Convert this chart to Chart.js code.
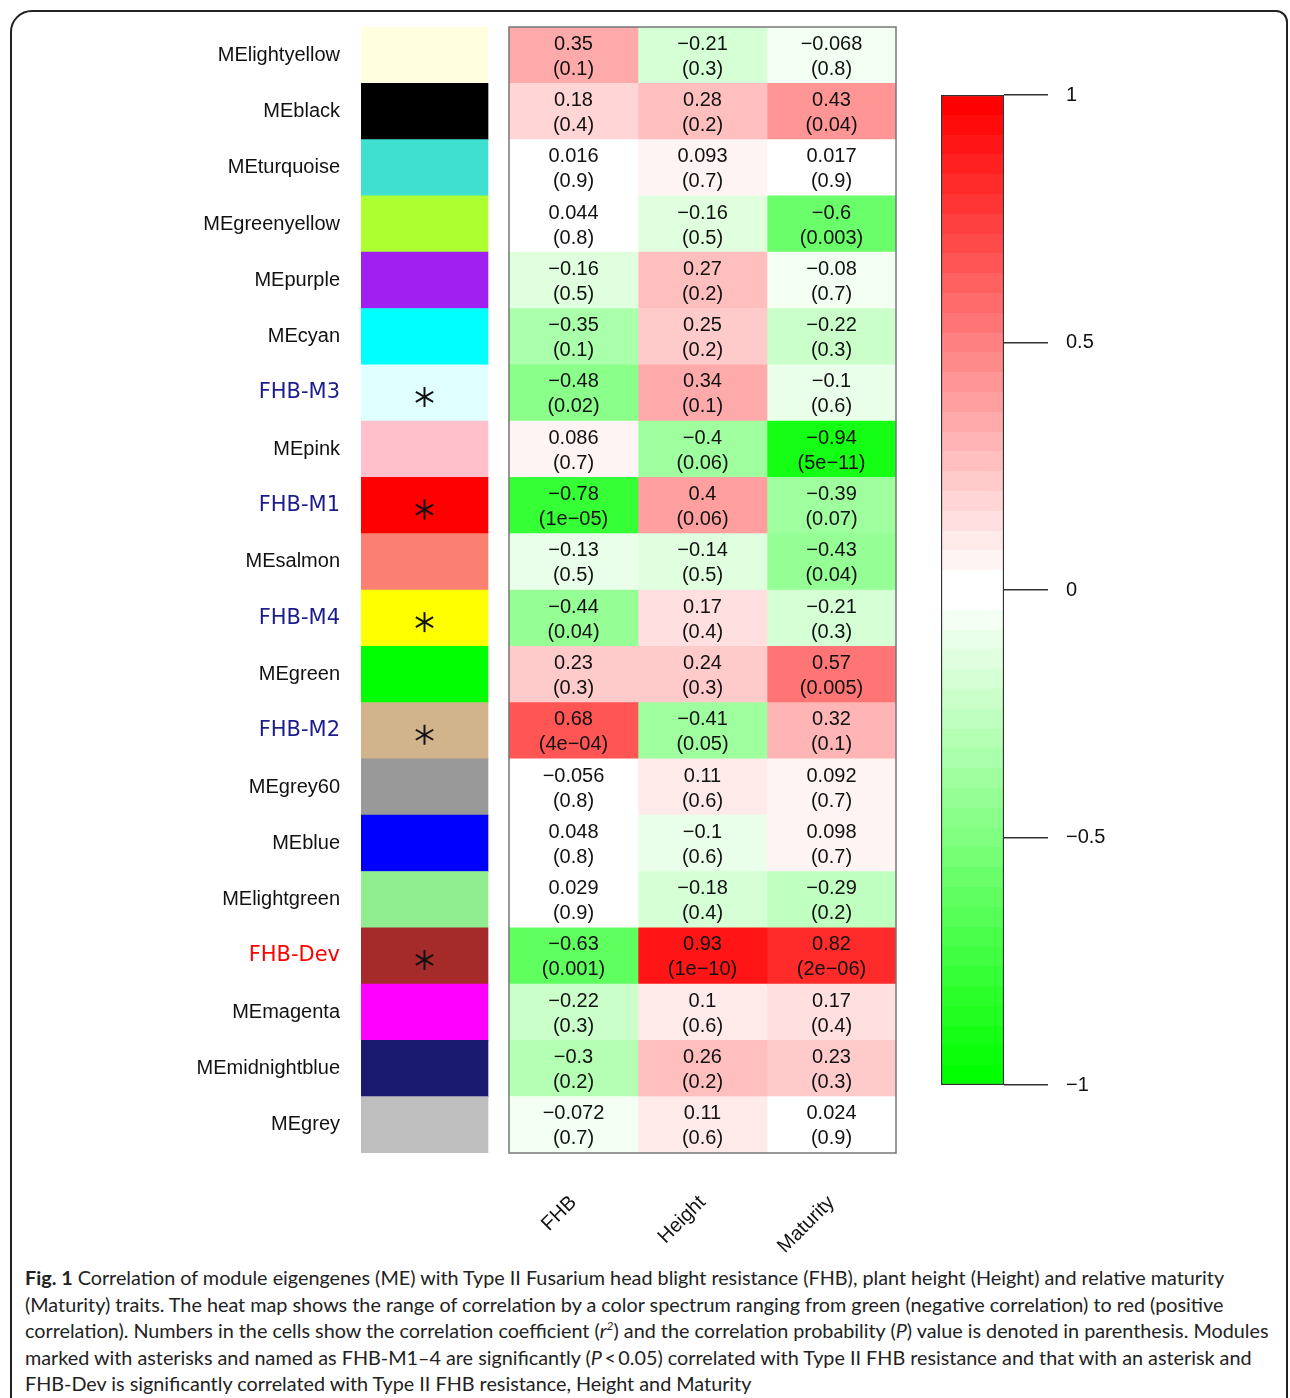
<!DOCTYPE html>
<html>
<head>
<meta charset="utf-8">
<title>Module-trait correlation</title>
<script src="https://cdn.jsdelivr.net/npm/chart.js@4.4.1/dist/chart.umd.min.js"></script>
<style>
  body { margin: 0; background: #fff; }
  #page { position: relative; width: 1290px; height: 1398px; overflow: hidden; }
  #frame { position: absolute; left: 10px; top: 10px; width: 1274px; height: 1500px;
           border: 2px solid #222; border-radius: 22px 12px 0 0; }
  #heat { position: absolute; left: 0; top: 0; }
  #scale { position: absolute; left: 920px; top: 0; }
  #caption { position: absolute; left: 25px; top: 1264px; font-family: Lato, sans-serif;
             font-size: 19.8px; line-height: 26.5px; color: #222; white-space: nowrap; }
  #caption sup { font-size: 12px; line-height: 0; }
</style>
</head>
<body>
<div id="page">
  <div id="frame"></div>
  <canvas id="heat" width="920" height="1260"></canvas>
  <canvas id="scale" width="370" height="1260"></canvas>
  <div id="caption">
    <b>Fig. 1</b> Correlation of module eigengenes (ME) with Type II Fusarium head blight resistance (FHB), plant height (Height) and relative maturity<br>
    (Maturity) traits. The heat map shows the range of correlation by a color spectrum ranging from green (negative correlation) to red (positive<br>
    correlation). Numbers in the cells show the correlation coefficient (<i>r</i><sup><i>2</i></sup>) and the correlation probability (<i>P</i>) value is denoted in parenthesis. Modules<br>
    marked with asterisks and named as FHB-M1–4 are significantly (<i>P</i>&thinsp;&lt;&thinsp;0.05) correlated with Type II FHB resistance and that with an asterisk and<br>
    FHB-Dev is significantly correlated with Type II FHB resistance, Height and Maturity
  </div>
</div>
<script>
// ---- data ----
const modules = ['MElightyellow', 'MEblack', 'MEturquoise', 'MEgreenyellow', 'MEpurple',
  'MEcyan', 'FHB-M3', 'MEpink', 'FHB-M1', 'MEsalmon', 'FHB-M4', 'MEgreen', 'FHB-M2',
  'MEgrey60', 'MEblue', 'MElightgreen', 'FHB-Dev', 'MEmagenta', 'MEmidnightblue', 'MEgrey'];
const moduleColors = ['#FFFFE0', '#000000', '#40E0D0', '#ADFF2F', '#A020F0',
  '#00FFFF', '#E0FFFF', '#FFC0CB', '#FF0000', '#FA8072', '#FFFF00', '#00FF00', '#D2B48C',
  '#999999', '#0000FF', '#90EE90', '#A52A2A', '#FF00FF', '#191970', '#BEBEBE'];
const traits = ['FHB', 'Height', 'Maturity'];

const rFHB = [0.35, 0.18, 0.016, 0.044, -0.16, -0.35, -0.48, 0.086, -0.78, -0.13,
  -0.44, 0.23, 0.68, -0.056, 0.048, 0.029, -0.63, -0.22, -0.3, -0.072];
const pFHB = ['0.1', '0.4', '0.9', '0.8', '0.5', '0.1', '0.02', '0.7', '1e-05', '0.5',
  '0.04', '0.3', '4e-04', '0.8', '0.8', '0.9', '0.001', '0.3', '0.2', '0.7'];
const rHeight = [-0.21, 0.28, 0.093, -0.16, 0.27, 0.25, 0.34, -0.4, 0.4, -0.14,
  0.17, 0.24, -0.41, 0.11, -0.1, -0.18, 0.93, 0.1, 0.26, 0.11];
const pHeight = ['0.3', '0.2', '0.7', '0.5', '0.2', '0.2', '0.1', '0.06', '0.06', '0.5',
  '0.4', '0.3', '0.05', '0.6', '0.6', '0.4', '1e-10', '0.6', '0.2', '0.6'];
const rMaturity = [-0.068, 0.43, 0.017, -0.6, -0.08, -0.22, -0.1, -0.94, -0.39, -0.43,
  -0.21, 0.57, 0.32, 0.092, 0.098, -0.29, 0.82, 0.17, 0.23, 0.024];
const pMaturity = ['0.8', '0.04', '0.9', '0.003', '0.7', '0.3', '0.6', '5e-11', '0.07', '0.04',
  '0.3', '0.005', '0.1', '0.7', '0.7', '0.2', '2e-06', '0.4', '0.3', '0.9'];

const scaleTicks = [-1, -0.5, 0, 0.5, 1];

const rVals = [rFHB, rHeight, rMaturity];
const pVals = [pFHB, pHeight, pMaturity];

// green-white-red: 25 steps each side, step 0 is white
function stepColor(k, positive) {
  const c = Math.round(255 * (1 - k / 24));
  return positive ? `rgb(255,${c},${c})` : `rgb(${c},255,${c})`;
}
function corrColor(v) {
  const a = Math.abs(v);
  const k = a < 0.06 ? 0 : Math.min(24, Math.floor((a - 0.06) / 0.04) + 1);
  return stepColor(k, v >= 0);
}
const minus = s => String(s).replace(/-/g, '\u2212');

const CELL_FONT = '20px "Liberation Sans", Arial, sans-serif';
const MOD_START = -148 / 129, MOD_END = -21 / 129;

const cellText = {
  id: 'cellText',
  afterDatasetsDraw(chart) {
    const ctx = chart.ctx;
    ctx.save();
    ctx.font = CELL_FONT;
    ctx.fillStyle = '#111';
    ctx.textAlign = 'center';
    ctx.textBaseline = 'middle';
    traits.forEach((t, j) => {
      chart.getDatasetMeta(j + 1).data.forEach((bar, i) => {
        const cx = (bar.x + bar.base) / 2;
        ctx.fillText(minus(rVals[j][i]), cx, bar.y - 11);
        ctx.fillText('(' + minus(pVals[j][i]) + ')', cx, bar.y + 14);
      });
    });

    // asterisks on the significant modules
    ctx.strokeStyle = '#111';
    ctx.lineWidth = 2;
    chart.getDatasetMeta(0).data.forEach((bar, i) => {
      if (!modules[i].startsWith('FHB-')) return;
      const cx = (bar.x + bar.base) / 2, cy = bar.y + 4, r = 10;
      [90, 30, -30].forEach(a => {
        const dx = r * Math.cos(a * Math.PI / 180), dy = r * Math.sin(a * Math.PI / 180);
        ctx.beginPath();
        ctx.moveTo(cx - dx, cy - dy);
        ctx.lineTo(cx + dx, cy + dy);
        ctx.stroke();
      });
    });

    // frame round the heat map
    const x = chart.scales.x, area = chart.chartArea;
    const x0 = x.getPixelForValue(0), x1 = x.getPixelForValue(3);
    ctx.strokeStyle = '#777';
    ctx.lineWidth = 1.5;
    ctx.strokeRect(x0, area.top, x1 - x0, area.bottom - area.top);
    ctx.restore();
  }
};

const datasets = [{
  label: 'module',
  data: modules.map(() => [MOD_START, MOD_END]),
  backgroundColor: moduleColors,
  borderWidth: 0,
  grouped: false
}].concat(traits.map((t, j) => ({
  label: t,
  data: rVals[j].map(() => [j, j + 1]),
  backgroundColor: rVals[j].map(corrColor),
  borderWidth: 0,
  grouped: false
})));

new Chart(document.getElementById('heat'), {
  type: 'bar',
  data: { labels: modules, datasets },
  options: {
    indexAxis: 'y',
    responsive: false,
    animation: false,
    barPercentage: 1,
    categoryPercentage: 1,
    layout: { padding: { top: 27, right: 24, left: 0, bottom: 0 } },
    plugins: { legend: { display: false }, tooltip: { enabled: false } },
    scales: {
      x: {
        type: 'linear',
        min: MOD_START,
        max: 3,
        grid: { display: false },
        border: { display: false },
        afterBuildTicks: s => { s.ticks = traits.map((t, j) => ({ value: j + 0.5 })); },
        afterFit: s => { s.height = 107; s.paddingLeft = 0; s.paddingRight = 0; },
        ticks: {
          autoSkip: false,
          minRotation: 45,
          maxRotation: 45,
          padding: 30,
          color: '#111',
          font: { family: '"Liberation Sans", Arial, sans-serif', size: 20 },
          callback: (v, i) => traits[i]
        }
      },
      y: {
        grid: { display: false, drawTicks: false },
        border: { display: false },
        afterFit: s => { s.width = 361; s.paddingTop = 0; s.paddingBottom = 0; },
        ticks: {
          padding: 21,
          color: c => {
            const n = modules[c.index] || '';
            return n === 'FHB-Dev' ? '#ff0000' : n.startsWith('FHB-') ? '#1c1c8c' : '#111';
          },
          font: c => (modules[c.index] || '').startsWith('FHB-')
            ? { family: '"DejaVu Sans", Verdana, sans-serif', size: 21 }
            : { family: '"Liberation Sans", Arial, sans-serif', size: 20 }
        }
      }
    }
  },
  plugins: [cellText]
});

// ---- colour key: 50 even steps from -1 to 1 ----
function stepGradient(c) {
  const chart = c.chart;
  if (!chart.chartArea) return '#fff';
  const y = chart.scales.y;
  const g = chart.ctx.createLinearGradient(0, y.getPixelForValue(-1), 0, y.getPixelForValue(1));
  for (let i = 0; i < 50; i++) {
    const col = i < 25 ? stepColor(24 - i, false) : stepColor(i - 25, true);
    g.addColorStop(i / 50, col);
    g.addColorStop((i + 1) / 50, col);
  }
  return g;
}

new Chart(document.getElementById('scale'), {
  type: 'bar',
  data: {
    labels: ['r'],
    datasets: [{
      data: [[scaleTicks[0], scaleTicks[scaleTicks.length - 1]]],
      backgroundColor: stepGradient,
      borderColor: '#333',
      borderWidth: 1.5,
      borderSkipped: false
    }]
  },
  options: {
    responsive: false,
    animation: false,
    barPercentage: 1,
    categoryPercentage: 1,
    layout: { padding: { top: 95, left: 21, right: 0, bottom: 175 } },
    plugins: { legend: { display: false }, tooltip: { enabled: false } },
    scales: {
      x: { display: false },
      y: {
        position: 'right',
        min: -1,
        max: 1,
        afterBuildTicks: s => { s.ticks = scaleTicks.map(v => ({ value: v })); },
        afterFit: s => { s.width = 286; s.paddingTop = 0; s.paddingBottom = 0; },
        border: { display: false },
        grid: { drawOnChartArea: false, drawTicks: true, tickLength: 44, color: '#333', lineWidth: 1.5 },
        ticks: {
          padding: 18,
          color: '#111',
          font: { family: '"Liberation Sans", Arial, sans-serif', size: 20 },
          callback: v => minus(v)
        }
      }
    }
  }
});
</script>
</body>
</html>
